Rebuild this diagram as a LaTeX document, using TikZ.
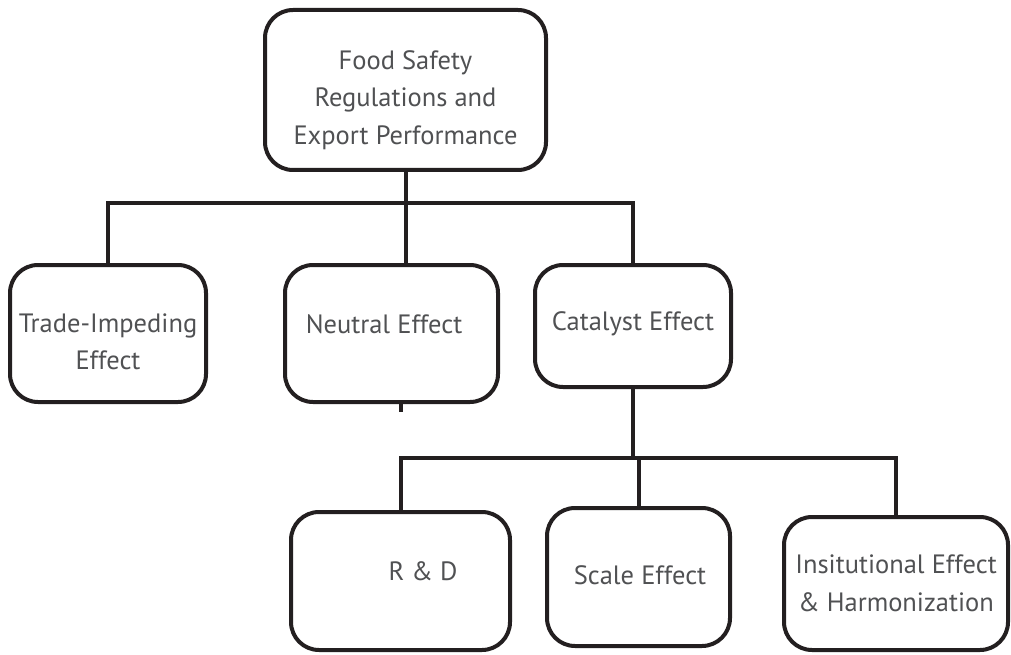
\documentclass[tikz,border=0pt]{standalone}
\usepackage{fontspec}
\setmainfont{PT Sans}
\usepackage{tikz}

\definecolor{ink}{HTML}{231F20}
\definecolor{txtgray}{HTML}{505153}

\begin{document}
\begin{tikzpicture}[x=1pt, y=-1pt,
  box/.style={draw=ink, line width=4pt, rounded corners=28pt, inner sep=0pt},
  txt/.style={text=txtgray, align=center, font=\fontsize{26.5}{37.5}\selectfont},
  conn/.style={draw=ink, line width=4pt}]
\useasboundingbox (0,0) rectangle (1011,655);
% top level
\node[box, minimum width=281pt, minimum height=160pt,
  label={[txt, yshift=-10pt]center:Food Safety\\Regulations and\\Export Performance}] (top) at (405.5,90) {};
% second level
\node[box, minimum width=196pt, minimum height=137pt,
  label={[txt, yshift=-8.5pt]center:Trade-Impeding\\Effect}] (trade) at (108,333.5) {};
\node[box, minimum width=213pt, minimum height=137pt,
  label={[txt, xshift=-7.5pt, yshift=9.5pt]center:Neutral Effect}] (neutral) at (391.5,333.5) {};
\node[box, minimum width=196pt, minimum height=122pt,
  label={[txt, yshift=2pt]center:Catalyst Effect}] (cat) at (633,326) {};
% third level
\node[box, minimum width=219pt, minimum height=138pt,
  label={[txt, xshift=22.5pt, yshift=10pt]center:R \& D}] (rd) at (400.5,581) {};
\node[box, minimum width=183pt, minimum height=138pt,
  label={[txt, xshift=1.5pt, yshift=2pt]center:Scale Effect}] (scale) at (638.5,577) {};
\node[box, minimum width=224pt, minimum height=133pt,
  label={[txt, yshift=0pt]center:Insitutional Effect\\\& Harmonization}] (inst) at (896,583.5) {};

% connectors
\coordinate (busA) at (0,203);
\coordinate (busB) at (0,458);
\coordinate (stub) at (401,412);
\draw[conn] (top.south) -- (top.south |- busA);
\draw[conn] (trade.north) |- (busA -| cat.north) -- (cat.north);
\draw[conn] (top.south |- busA) -- (top.south |- neutral.north);
\draw[conn] (stub |- neutral.south) -- (stub);
\draw[conn] (cat.south) -- (cat.south |- busB);
\draw[conn] (rd.north) |- (busB -| inst.north) -- (inst.north);
\draw[conn] (scale.north) -- (scale.north |- busB);
\end{tikzpicture}
\end{document}
